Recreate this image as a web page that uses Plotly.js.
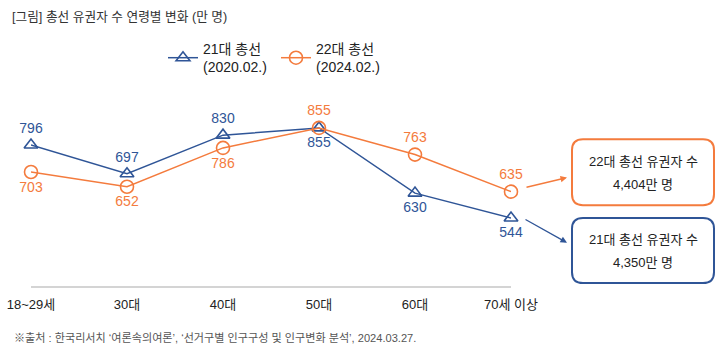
<!DOCTYPE html>
<html>
<head>
<meta charset="utf-8">
<script src="https://cdn.plot.ly/plotly-3.0.1.min.js"></script>
<style>html,body{margin:0;padding:0;background:#fff;}#chart{width:726px;height:361px;}</style>
</head>
<body>
<div id="chart"></div>
<script>
const categories = ["18~29세", "30대", "40대", "50대", "60대", "70세 이상"];
const voters21 = [796, 697, 830, 855, 630, 544];
const voters22 = [703, 652, 786, 855, 763, 635];
const labelPos21 = ["top center", "top center", "top center", "bottom center", "bottom center", "bottom center"];
const labelPos22 = ["bottom center", "bottom center", "bottom center", "top center", "top center", "top center"];
const seriesNames = ["21대 총선<br>(2020.02.)", "22대 총선<br>(2024.02.)"];
const totalTexts = [["22대 총선 유권자 수", "4,404만 명"], ["21대 총선 유권자 수", "4,350만 명"]];
const chartTitle = "[그림] 총선 유권자 수 연령별 변화 (만 명)";
const sourceText = "※출처 : 한국리서치 ‘여론속의여론’, ‘선거구별 인구구성 및 인구변화 분석’, 2024.03.27.";

const BLUE = "#2f5597", ORANGE = "#f47b3d";
const FONT = "Liberation Sans, Noto Sans CJK KR, sans-serif";
const W = 726, H = 361, L = 31, R = 215, T = 80, B = 75;
const pw = W - L - R, ph = H - T - B;
const px = X => (X - L) / pw;
const py = Y => (H - B - Y) / ph;

function roundRect(x0, y0, x1, y1, r) {
  const rx = r / pw, ry = r / ph;
  const a = px(x0), b = px(x1), top = py(y0), bot = py(y1);
  return `M ${a + rx},${top} L ${b - rx},${top} Q ${b},${top} ${b},${top - ry} ` +
    `L ${b},${bot + ry} Q ${b},${bot} ${b - rx},${bot} L ${a + rx},${bot} ` +
    `Q ${a},${bot} ${a},${bot + ry} L ${a},${top - ry} Q ${a},${top} ${a + rx},${top} Z`;
}

const traces = [
  {
    x: categories, y: voters21, name: seriesNames[0], type: "scatter", mode: "lines+markers+text",
    text: voters21.map(String), textposition: labelPos21,
    textfont: {family: FONT, size: 14, color: BLUE},
    line: {color: BLUE, width: 1.5},
    marker: {symbol: "triangle-up-open", size: 12, color: BLUE, line: {width: 1.6, color: BLUE}},
    cliponaxis: false, hoverinfo: "skip"
  },
  {
    x: categories, y: voters22, name: seriesNames[1], type: "scatter", mode: "lines+markers+text",
    text: voters22.map(String), textposition: labelPos22,
    textfont: {family: FONT, size: 14, color: ORANGE},
    line: {color: ORANGE, width: 1.5},
    marker: {symbol: "circle-open", size: 13, color: ORANGE, line: {width: 1.6, color: ORANGE}},
    cliponaxis: false, hoverinfo: "skip"
  }
];

const boxes = [
  {y0: 137, y1: 204, color: ORANGE},
  {y0: 217, y1: 283, color: BLUE}
];

const shapes = boxes.map(b => ({
  type: "path", xref: "paper", yref: "paper",
  path: roundRect(572, b.y0, 714, b.y1, 11),
  line: {color: b.color, width: 2}, fillcolor: "rgba(0,0,0,0)"
}));

const annotations = [];
boxes.forEach((b, i) => {
  const cy = (b.y0 + b.y1) / 2;
  annotations.push({xref: "paper", yref: "paper", x: px(643), y: py(cy - 11), text: totalTexts[i][0],
    showarrow: false, xanchor: "center", yanchor: "middle", font: {family: FONT, size: 13, color: "#222"}});
  annotations.push({xref: "paper", yref: "paper", x: px(643), y: py(cy + 12), text: totalTexts[i][1],
    showarrow: false, xanchor: "center", yanchor: "middle", font: {family: FONT, size: 13, color: "#222"}});
});
// arrows
annotations.push({xref: "paper", yref: "paper", x: px(567), y: py(176), ax: -42, ay: 10, text: "",
  showarrow: true, arrowhead: 2, arrowsize: 1, arrowwidth: 1.3, arrowcolor: ORANGE});
annotations.push({xref: "paper", yref: "paper", x: px(567), y: py(242), ax: -43, ay: -24, text: "",
  showarrow: true, arrowhead: 2, arrowsize: 1, arrowwidth: 1.3, arrowcolor: BLUE});
// source
annotations.push({xref: "paper", yref: "paper", x: px(12), y: py(339), text: sourceText,
  showarrow: false, xanchor: "left", yanchor: "middle", font: {family: FONT, size: 11.1, color: "#555"}});

const layout = {
  width: W, height: H,
  margin: {l: L, r: R, t: T, b: B},
  paper_bgcolor: "#fff", plot_bgcolor: "#fff",
  font: {family: FONT, color: "#222"},
  title: {text: chartTitle, xref: "container", yref: "container", x: 12 / W, xanchor: "left",
    y: 1 - 17 / H, yanchor: "middle", font: {family: FONT, size: 12.7, color: "#333"}},
  showlegend: true,
  legend: {orientation: "h", xref: "container", yref: "container", x: 163 / W, xanchor: "left",
    y: 1 - 58 / H, yanchor: "middle", font: {family: FONT, size: 14, color: "#222"},
    entrywidth: 68, entrywidthmode: "pixels", bgcolor: "rgba(0,0,0,0)", itemclick: false},
  xaxis: {type: "category", range: [0, 5], showline: true, linecolor: "#d4d4d4", linewidth: 1.5,
    showgrid: false, zeroline: false, ticks: "", ticklabelstandoff: 6,
    tickfont: {family: FONT, size: 13, color: "#222"}, fixedrange: true},
  yaxis: {range: [309.5, 1010], visible: false, showgrid: false, zeroline: false, fixedrange: true},
  shapes: shapes, annotations: annotations
};

Plotly.newPlot("chart", traces, layout, {displayModeBar: false, staticPlot: true});
</script>
</body>
</html>
